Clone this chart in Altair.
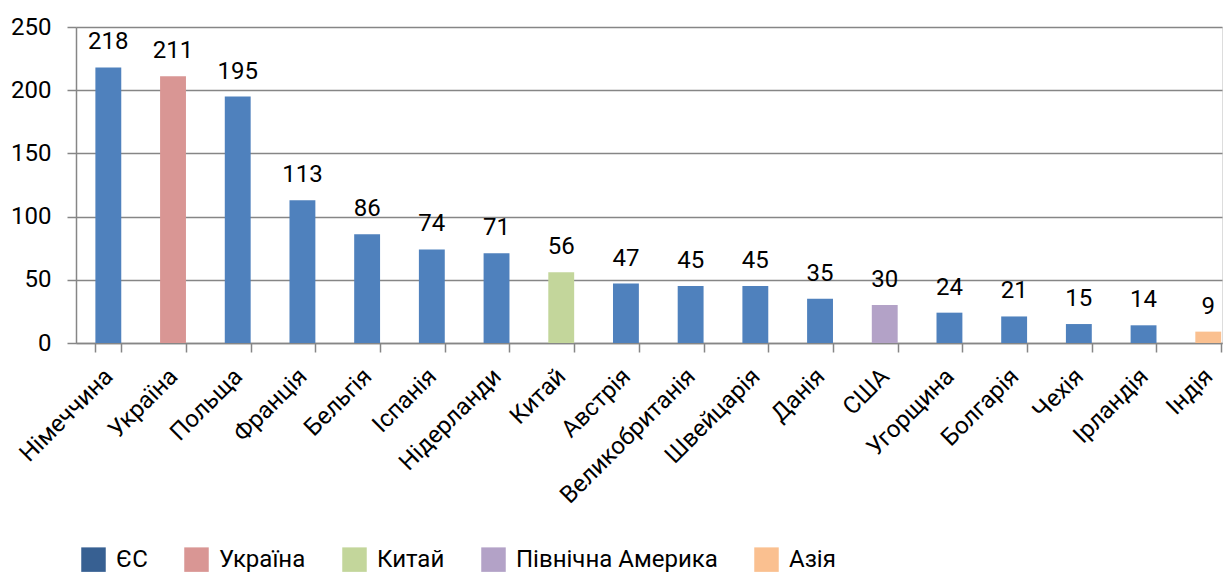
import altair as alt
import pandas as pd

countries = ["Німеччина", "Україна", "Польща", "Франція", "Бельгія", "Іспанія",
             "Нідерланди", "Китай", "Австрія", "Великобританія", "Швейцарія",
             "Данія", "США", "Угорщина", "Болгарія", "Чехія", "Ірландія", "Індія"]
values = [218, 211, 195, 113, 86, 74, 71, 56, 47, 45, 45, 35, 30, 24, 21, 15, 14, 9]
groups = ["ЄС", "Україна", "ЄС", "ЄС", "ЄС", "ЄС", "ЄС", "Китай", "ЄС", "ЄС", "ЄС",
          "ЄС", "Північна Америка", "ЄС", "ЄС", "ЄС", "ЄС", "Азія"]
group_order = ["ЄС", "Україна", "Китай", "Північна Америка", "Азія"]
bar_colors = ["#4f81bd", "#d99694", "#c3d69b", "#b3a2c7", "#fac090"]
legend_colors = ["#376092", "#d99694", "#c3d69b", "#b3a2c7", "#fac090"]

df = pd.DataFrame({"country": countries, "value": values, "group": groups})

FONT = "Roboto"
GRAY = "#868686"

x = alt.X("country:N", sort=countries, title=None,
          scale=alt.Scale(paddingInner=0.6, paddingOuter=0.156, align=0.96),
          axis=alt.Axis(labelAngle=-45, labelAlign="right", labelBaseline="top",
                        labelFontSize=24, labelFont=FONT, labelColor="#000000",
                        labelPadding=12, labelOffset=-8, tickBand="extent", tickSize=9,
                        tickColor=GRAY, tickWidth=1.5, domainColor=GRAY, domainWidth=1.5,
                        grid=False, labelOverlap=False, labelLimit=400))

y = alt.Y("value:Q", title=None,
          scale=alt.Scale(domain=[0, 250], nice=False),
          axis=alt.Axis(values=[0, 50, 100, 150, 200, 250], labelFontSize=24,
                        labelFont=FONT, labelColor="#000000", tickSize=9,
                        tickColor=GRAY, tickWidth=1.5, domainColor=GRAY, domainWidth=1.5,
                        gridColor=GRAY, gridWidth=1.3, labelPadding=16))

base = alt.Chart(df)

bars = base.mark_bar().encode(
    x=x, y=y,
    color=alt.Color("group:N", scale=alt.Scale(domain=group_order, range=bar_colors),
                    legend=None),
)

legend_layer = base.mark_square(opacity=0, size=1).encode(
    x=alt.X("country:N", sort=countries),
    y="value:Q",
    color=alt.Color("group:N", scale=alt.Scale(domain=group_order, range=legend_colors),
                    title=None,
                    legend=alt.Legend(orient="none", legendX=5, legendY=520, padding=0,
                                      direction="horizontal", columns=5,
                                      symbolType="square", symbolSize=600,
                                      symbolOpacity=1, symbolStrokeWidth=0,
                                      labelFontSize=24, labelFont=FONT,
                                      labelColor="#000000", labelLimit=400,
                                      columnPadding=36, labelOffset=10)),
)

labels = base.mark_text(baseline="alphabetic", dy=-18, fontSize=24, font=FONT,
                        color="#000000").encode(
    x=alt.X("country:N", sort=countries),
    y="value:Q",
    text="value:Q",
)

chart = alt.layer(bars, legend_layer, labels).resolve_scale(color="independent").properties(
    width=1146, height=316,
    autosize=alt.AutoSizeParams(type="none"),
    padding={"left": 68, "top": 19, "right": 2, "bottom": 230},
).configure_view(stroke=None).configure(background="#ffffff")

chart.save("out.html", embed_options={"renderer": "svg", "actions": False})
